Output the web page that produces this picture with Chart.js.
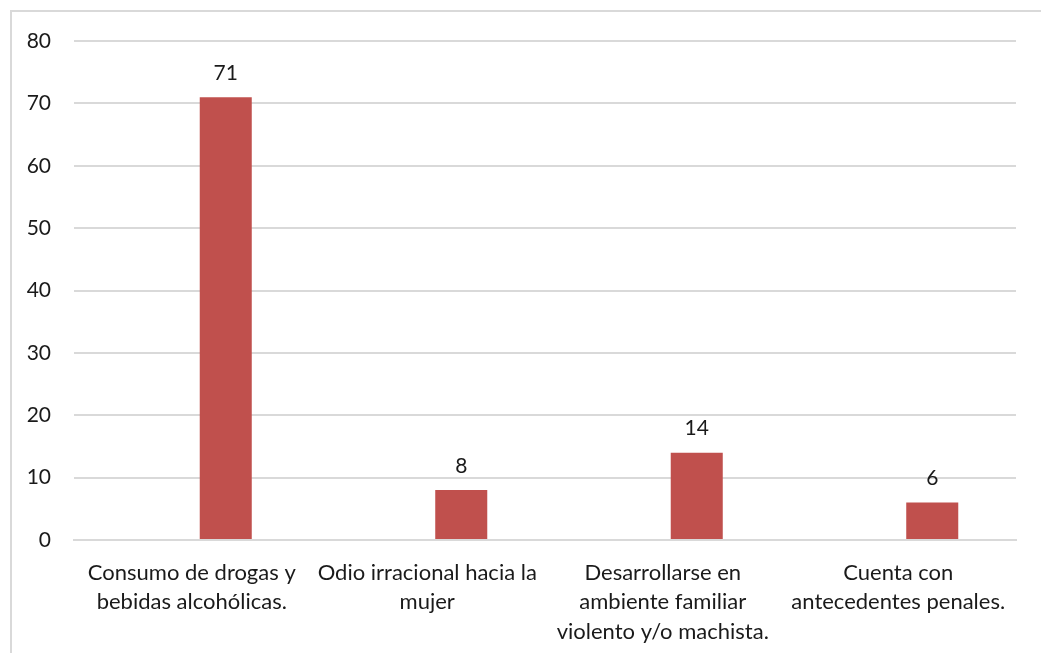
<!DOCTYPE html>
<html>
<head>
<meta charset="utf-8">
<script src="https://cdn.jsdelivr.net/npm/chart.js@4/dist/chart.umd.min.js"></script>
<style>
  html, body { margin: 0; padding: 0; background: #fff; overflow: hidden; }
  #frame { position: absolute; left: 10px; top: 10px; width: 1100px; height: 700px; border: 2px solid #d9d9d9; }
  #myChart { position: absolute; left: 0; top: 0; }
</style>
</head>
<body>
<div id="frame"></div>
<canvas id="myChart" width="1041" height="653"></canvas>
<script>
// categories (multi-line labels) and values
const categories = [
    ['Consumo de drogas y', 'bebidas alcohólicas.'],
    ['Odio irracional hacia la', 'mujer'],
    ['Desarrollarse en', 'ambiente familiar', 'violento y/o machista.'],
    ['Cuenta con', 'antecedentes penales.']
];
// the original sheet has an empty first series, so the bars sit right of centre
const emptySeries = [null, null, null, null];
const values = [71, 8, 14, 6];
const yTicks = [0, 10, 20, 30, 40, 50, 60, 70, 80];

const fontName = 'Lato, "Open Sans", sans-serif';

// draws the number above each bar
const valueLabels = {
    id: 'valueLabels',
    afterDatasetsDraw(chart) {
        const c = chart.ctx;
        const meta = chart.getDatasetMeta(1);
        c.save();
        c.font = '21px ' + fontName;
        c.fillStyle = '#1a1a1a';
        c.textAlign = 'center';
        c.textBaseline = 'middle';
        meta.data.forEach((bar, i) => {
            c.fillText(String(values[i]), bar.x, bar.y - 24);
        });
        c.restore();
    }
};

var ctx = document.getElementById('myChart').getContext('2d');

var myChart = new Chart(ctx, { // eslint-disable-line
    type: 'bar',
    data: {
        labels: categories,
        datasets: [{
            label: 'Serie 1',
            data: emptySeries,
            backgroundColor: '#4f81bd',
            borderWidth: 0,
            barPercentage: 0.765,
            categoryPercentage: 0.5775
        },
        {
            label: 'Serie 2',
            data: values,
            backgroundColor: '#c0504d',
            borderWidth: 0,
            barPercentage: 0.765,
            categoryPercentage: 0.5775
        }]
    },
    options: {
        responsive: false,
        animation: false,
        layout: {
            padding: { top: 41, right: 25, left: 0, bottom: 0 }
        },
        plugins: {
            legend: { display: false },
            tooltip: { enabled: false }
        },
        scales: {
            x: {
                grid: { display: false, drawTicks: false },
                border: { display: true, color: '#d9d9d9', width: 2 },
                ticks: {
                    color: '#1a1a1a',
                    font: { family: fontName, size: 22, lineHeight: 1.34 },
                    padding: 18,
                    maxRotation: 0,
                    autoSkip: false
                },
                afterFit(scale) { scale.height = 113; }
            },
            y: {
                min: 0,
                max: 80,
                afterBuildTicks(scale) {
                    scale.ticks = yTicks.map(v => ({ value: v }));
                },
                grid: { color: '#d9d9d9', lineWidth: 2, drawTicks: false },
                border: { display: false },
                ticks: {
                    color: '#1a1a1a',
                    font: { family: fontName, size: 21 },
                    padding: 23
                },
                afterFit(scale) { scale.width = 74; }
            }
        }
    },
    plugins: [valueLabels]
});
</script>
</body>
</html>
